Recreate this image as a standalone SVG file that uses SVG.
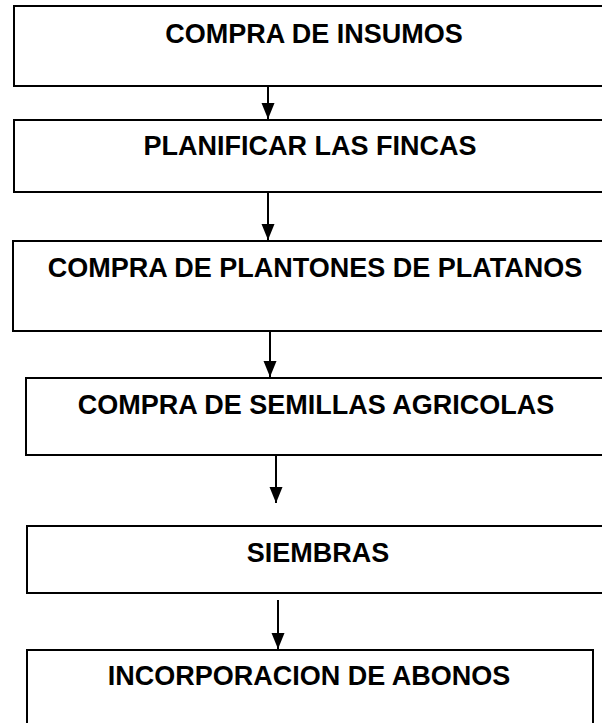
<svg xmlns="http://www.w3.org/2000/svg" width="602" height="723" viewBox="0 0 602 723">
  <defs>
    <marker id="arrow" markerUnits="userSpaceOnUse" markerWidth="17" markerHeight="14" viewBox="0 0 17 14" refX="16" refY="7" orient="auto">
      <path d="M0,0.5 L16,7 L0,13.5 Z" fill="#000"/>
    </marker>
    <style>
      .box { fill: #fff; stroke: #000; stroke-width: 2; }
      .lbl { font-family: "Liberation Sans", Arial, sans-serif; font-weight: bold; font-size: 27px; fill: #000; text-anchor: middle; }
      .conn { stroke: #000; stroke-width: 2; fill: none; marker-end: url(#arrow); }
    </style>
  </defs>
  <rect width="602" height="723" fill="#fff"/>

  <g id="connectors">
    <line class="conn" x1="268" y1="86" x2="268" y2="119"/>
    <line class="conn" x1="268" y1="192" x2="268" y2="240"/>
    <line class="conn" x1="270" y1="331" x2="270" y2="377"/>
    <line class="conn" x1="276" y1="455" x2="276" y2="503"/>
    <line class="conn" x1="278" y1="600" x2="278" y2="649"/>
  </g>

  <g id="node1">
    <rect class="box" x="14" y="6" width="600" height="80"/>
    <text class="lbl" x="314" y="43">COMPRA DE INSUMOS</text>
  </g>
  <g id="node2">
    <rect class="box" x="14" y="120" width="600" height="72"/>
    <text class="lbl" x="310" y="155">PLANIFICAR LAS FINCAS</text>
  </g>
  <g id="node3">
    <rect class="box" x="13" y="241" width="600" height="90"/>
    <text class="lbl" x="315" y="277">COMPRA DE PLANTONES DE PLATANOS</text>
  </g>
  <g id="node4">
    <rect class="box" x="26" y="378" width="600" height="77"/>
    <text class="lbl" x="316" y="414">COMPRA DE SEMILLAS AGRICOLAS</text>
  </g>
  <g id="node5">
    <rect class="box" x="27" y="526" width="600" height="67"/>
    <text class="lbl" x="318" y="562">SIEMBRAS</text>
  </g>
  <g id="node6">
    <rect class="box" x="27" y="650" width="566" height="100"/>
    <text class="lbl" x="309" y="685">INCORPORACION DE ABONOS</text>
  </g>
</svg>
